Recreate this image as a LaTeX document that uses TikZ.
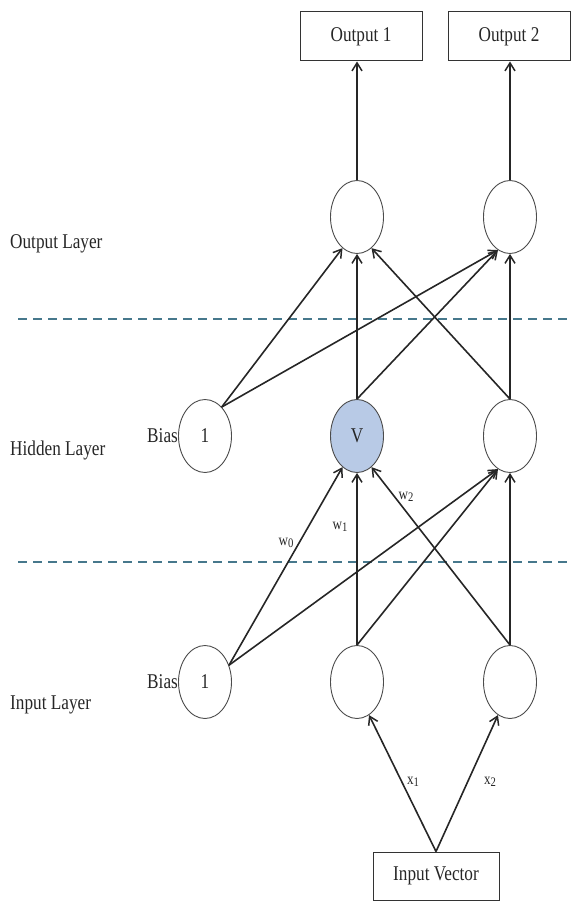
\documentclass[tikz,border=0pt]{standalone}
\usepackage{fontspec}
\setmainfont[FakeStretch=0.82]{Liberation Serif}
\usetikzlibrary{shapes.geometric,arrows.meta}
\definecolor{dcol}{RGB}{70,120,140}
\definecolor{vfill}{RGB}{184,202,230}
\newcommand{\lowd}[1]{\raisebox{-2.5pt}{\fontsize{13}{13}\selectfont #1}}
\begin{document}
\begin{tikzpicture}[x=1pt,y=-1pt,
 neuron/.style={ellipse,draw=black!70,line width=0.9pt,minimum width=53pt,minimum height=73pt,inner sep=0pt},
 box/.style={draw=black!80,line width=1pt,minimum width=122pt,minimum height=49pt,inner sep=0pt},
 lbl/.style={font=\fontsize{21}{21}\selectfont,text=black!85},
 wl/.style={font=\fontsize{16}{16}\selectfont,text=black!85,inner sep=0pt},
 conn/.style={line width=1.6pt,draw=black!85,-{Straight Barb[length=8pt,width=10pt,line width=1.5pt]}},
 sepline/.style={draw=dcol,line width=1.5pt,dash pattern=on 9pt off 6pt}]
\useasboundingbox (0,0) rectangle (571,901);

% boxes
\node[box,lbl] (o1b) at (361,36.5) {Output 1};
\node[box,lbl] (o2b) at (509,36.5) {Output 2};
\node[box,lbl,minimum width=126pt,minimum height=48pt] (iv) at (436,876) {Input Vector};

% neurons
\node[neuron] (o1) at (357,217) {};
\node[neuron] (o2) at (510,217) {};
\node[neuron,lbl] (hb) at (205,436) {1};
\node[neuron,lbl,fill=vfill] (hv) at (357,436) {V};
\node[neuron] (hr) at (510,436) {};
\node[neuron,lbl] (ib) at (205,682) {1};
\node[neuron] (im) at (357,682) {};
\node[neuron] (ir) at (510,682) {};

% layer labels
\node[lbl,anchor=west,inner sep=0pt] (lo) at (10,244) {Output Layer};
\node[lbl,anchor=west,inner sep=0pt] (lh) at (10,450) {Hidden Layer};
\node[lbl,anchor=west,inner sep=0pt] (li) at (10,705) {Input Layer};
\node[lbl,anchor=east,inner sep=0pt] (bh) at (hb.west) {Bias};
\node[lbl,anchor=east,inner sep=0pt] (bi) at (ib.west) {Bias};

% separators
\coordinate (s1a) at (18,319); \coordinate (s1b) at (571,319);
\coordinate (s2a) at (18,562); \coordinate (s2b) at (571,562);
\draw[sepline] (s1a) -- (s1b);
\draw[sepline] (s2a) -- (s2b);

% output to boxes
\draw[conn] (o1.north) -- (o1.north |- o1b.south);
\draw[conn] (o2.north) -- (o2.north |- o2b.south);

% hidden to output
\draw[conn] (hb.60) -- (o1.245);
\draw[conn] (hb.60) -- (o2.250);
\draw[conn] (hv.north) -- (o1.south);
\draw[conn] (hv.north) -- (o2.250);
\draw[conn] (hr.north) -- (o1.295);
\draw[conn] (hr.north) -- (o2.south);

% input to hidden
\draw[conn] (ib.35) -- (hv.245);
\draw[conn] (ib.35) -- (hr.250);
\draw[conn] (im.north) -- (hv.south);
\draw[conn] (im.north) -- (hr.250);
\draw[conn] (ir.north) -- (hv.295);
\draw[conn] (ir.north) -- (hr.south);

% input vector
\draw[conn] (iv.north) -- (im.290);
\draw[conn] (iv.north) -- (ir.250);

% weight labels
\node[wl] (w0) at (286,543) {w\lowd{0}};
\node[wl] (w1) at (340,527) {w\lowd{1}};
\node[wl] (w2) at (406,497) {w\lowd{2}};
\node[wl] (x1) at (413,782) {x\lowd{1}};
\node[wl] (x2) at (490,782) {x\lowd{2}};
\end{tikzpicture}
\end{document}
